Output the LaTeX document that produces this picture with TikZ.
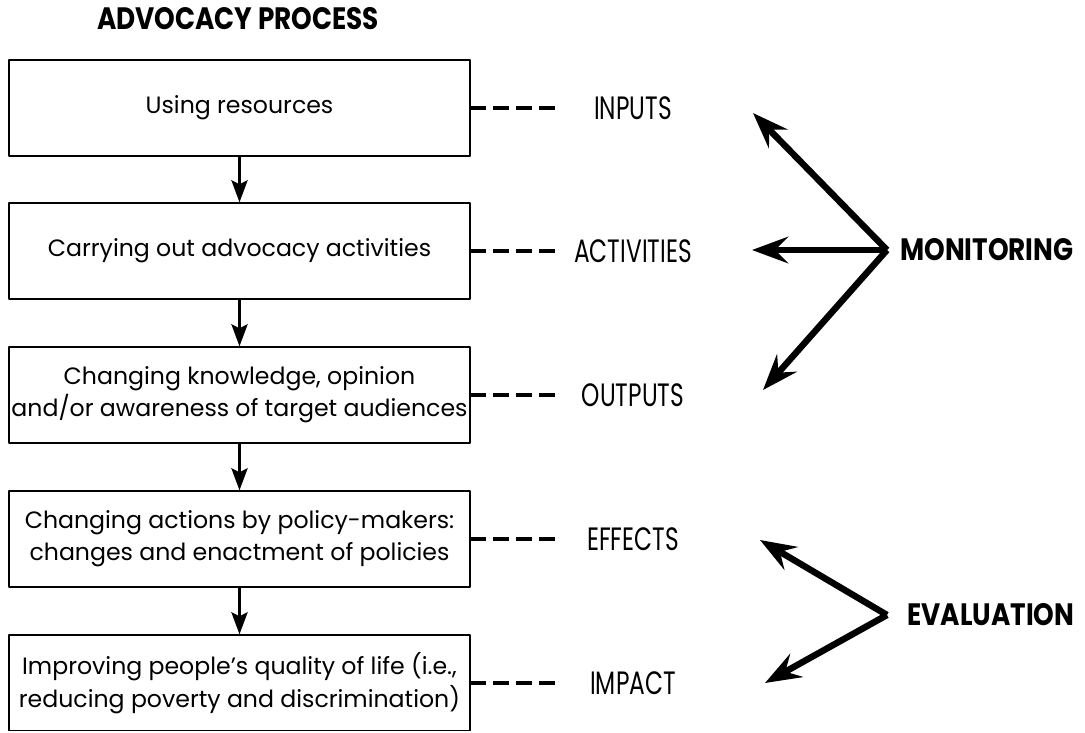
\documentclass[tikz,border=0pt]{standalone}
\usepackage{fontspec}
\setmainfont{Poppins}
\newfontfamily\tagfont{Poppins}[FakeStretch=0.72]
\newfontfamily\headfont{Poppins}[FakeStretch=0.85]
\usetikzlibrary{arrows.meta}

\begin{document}
\begin{tikzpicture}[x=0.025cm, y=-0.025cm, line join=round]
	\tikzset{procbox/.style={draw, line width=0.9pt, minimum width=11.525cm, minimum height=2.4cm, inner sep=0pt, align=center, font=\fontsize{16.8}{23}\selectfont},
		flow/.style={-{Stealth[length=0.55cm, width=0.4cm, inset=0.1cm]}, line width=2.5pt},
		dashlink/.style={line width=2.9pt, dash pattern=on 11pt off 5.2pt},
		tag/.style={font=\tagfont\fontsize{23}{23}\selectfont},
		bigword/.style={font=\headfont\bfseries\fontsize{22}{22}\selectfont, anchor=west, inner sep=0pt},
		reach/.style={-{Stealth[length=0.9cm, width=0.66cm, inset=0.32cm]}, line width=4.6pt}}
	\def\lx{633}\def\dx{557}
	\useasboundingbox (0,0) rectangle (1085,732);
	\clip (0,0) rectangle (1085,730);
	% title
	\node[font=\headfont\bfseries\fontsize{22}{22}\selectfont] (title) at (238,19) {ADVOCACY PROCESS};
	% process boxes
	\node[procbox] (use) at (239.5,108) {Using resources};
	\node[procbox] (act) at (239.5,251) {Carrying out advocacy activities};
	\node[procbox] (know) at (239.5,395) {Changing knowledge, opinion\\and/or awareness of target audiences};
	\node[procbox] (pol) at (239.5,539) {Changing actions by policy-makers:\\changes and enactment of policies};
	\node[procbox] (life) at (239.5,683) {Improving people's quality of life (i.e.,\\reducing poverty and discrimination)};
	\draw[flow] (use) -- (act);
	\draw[flow] (act) -- (know);
	\draw[flow] (know) -- (pol);
	\draw[flow] (pol) -- (life);
	% stage labels
	\foreach \b/\t in {use/INPUTS, act/ACTIVITIES, know/OUTPUTS, pol/EFFECTS, life/IMPACT}{
		\coordinate (e-\b) at (\b.east -| \dx,0);
		\draw[dashlink] (\b.east) -- (e-\b);
		\node[tag] (t-\b) at (\b.east -| \lx,0) {\t};
	}
	% monitoring
	\node[bigword] (mon) at (900,250) {MONITORING};
	\coordinate (mhub) at (887,250);
	\coordinate (mup) at (753,113);
	\coordinate (mmid) at (752,250);
	\coordinate (mdown) at (763,390);
	\draw[reach] (mhub) -- (mup);
	\draw[reach] (mhub) -- (mmid);
	\draw[reach] (mhub) -- (mdown);
	% evaluation
	\node[bigword] (eva) at (907,615) {EVALUATION};
	\coordinate (ehub) at (887,615);
	\coordinate (eup) at (760,540);
	\coordinate (edown) at (765,683);
	\draw[reach] (ehub) -- (eup);
	\draw[reach] (ehub) -- (edown);
\end{tikzpicture}
\end{document}
